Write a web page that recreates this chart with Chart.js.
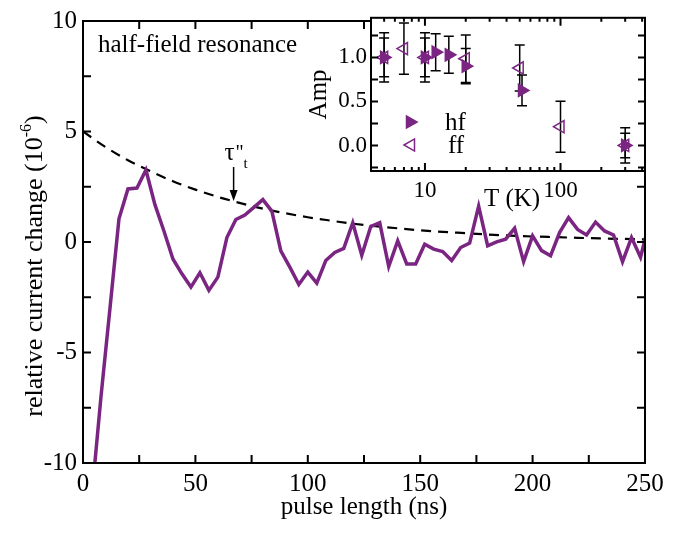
<!DOCTYPE html>
<html lang="en">
<head>
<meta charset="UTF-8">
<title>Half-field resonance</title>
<script src="https://cdn.jsdelivr.net/npm/chart.js"></script>
<style>
  body { margin: 0; background: #fff; }
  #wrap { position: relative; width: 679px; height: 534px; }
  #mainChart { position: absolute; left: 0; top: 0; }
  #insetChart { position: absolute; left: 290px; top: 0; }
</style>
</head>
<body>
<div id="wrap">
  <canvas id="mainChart" width="679" height="534"></canvas>
  <canvas id="insetChart" width="389" height="220"></canvas>
</div>
<script>
// main trace: pulse length (ns) vs relative current change (1e-6)
const pulseLength = [4, 8, 12, 16, 20, 24, 28, 32, 36, 40, 44, 48, 52, 56, 60, 64, 68, 72, 76, 80,
  84, 88, 92, 96, 100, 104, 108, 112, 116, 120, 124, 128, 132, 136, 140, 144, 148, 152, 156, 160,
  164, 168, 172, 176, 180, 184, 188, 192, 196, 200, 204, 208, 212, 216, 220, 224, 228, 232, 236, 240,
  244, 248, 252];
const currentChange = [-11.4, -7.0, -3.0, 1.05, 2.4, 2.44, 3.26, 1.69, 0.5, -0.77, -1.44, -2.04, -1.39, -2.19, -1.59, 0.2, 1.02, 1.22, 1.57, 1.92,
  1.4, -0.4, -1.14, -1.92, -1.36, -1.86, -0.84, -0.47, -0.29, 0.87, -0.6, 0.7, 0.87, -1.11, 0.05, -0.99, -0.99, -0.1, -0.32, -0.43,
  -0.84, -0.25, -0.05, 1.62, -0.17, 0.01, 0.13, 0.62, -0.89, 0.28, -0.39, -0.62, 0.43, 1.1, 0.57, 0.32, 0.9, 0.5, 0.32, -0.89,
  0.2, -0.69, 0.9];

// dashed envelope
const envLength = [0, 10, 20, 30, 40, 50, 60, 70, 80, 90, 100, 110, 120, 130, 140, 150, 160, 170, 180, 190, 200, 210, 220, 230, 240, 250];
const envChange = [5.0, 4.3, 3.7, 3.2, 2.75, 2.37, 2.04, 1.76, 1.51, 1.3, 1.12, 0.97, 0.83, 0.72, 0.62, 0.53, 0.46, 0.4, 0.34, 0.29, 0.25, 0.22, 0.19, 0.16, 0.14, 0.12];

const xTicks = [0, 50, 100, 150, 200, 250];
const yTicks = [-10, -5, 0, 5, 10];
const tauT = 67;

// inset: amplitude vs temperature
const tempHf = [5, 10, 12, 15, 20, 52, 300];
const ampHf = [1.0, 1.0, 1.06, 1.03, 0.9, 0.625, 0.0];
const errHf = [0.22, 0.22, 0.21, 0.21, 0.2, 0.175, 0.14];
const tempFf = [5, 7, 10, 20, 50, 100, 300];
const ampFf = [1.0, 1.1, 1.0, 0.985, 0.88, 0.213, 0.0];
const errFf = [0.28, 0.29, 0.28, 0.27, 0.26, 0.29, 0.2];
const insetXTicks = [10, 100];
const insetYTicks = [0, 0.5, 1.0];

const purple = '#7b2583';
const serif = '"Liberation Serif", "Times New Roman", serif';

function toPoints(xs, ys) {
  return xs.map((x, i) => ({ x: x, y: ys[i] }));
}

// frame + inward ticks for the main plot, and the annotations
const mainDecor = {
  id: 'mainDecor',
  afterDraw(chart) {
    const { ctx, chartArea: a, scales: { x, y } } = chart;
    ctx.save();
    ctx.strokeStyle = '#000';
    ctx.lineWidth = 2;
    ctx.strokeRect(a.left, a.top, a.right - a.left, a.bottom - a.top);
    ctx.beginPath();
    for (let v = 0; v <= 250; v += 25) {
      const px = x.getPixelForValue(v);
      ctx.moveTo(px, a.bottom); ctx.lineTo(px, a.bottom - 8);
      ctx.moveTo(px, a.top); ctx.lineTo(px, a.top + 8);
    }
    for (let v = -10; v <= 10; v += 2.5) {
      const py = y.getPixelForValue(v);
      ctx.moveTo(a.left, py); ctx.lineTo(a.left + 8, py);
      ctx.moveTo(a.right, py); ctx.lineTo(a.right - 8, py);
    }
    ctx.stroke();

    ctx.fillStyle = '#000';
    ctx.font = '25px ' + serif;
    ctx.textAlign = 'left';
    ctx.textBaseline = 'alphabetic';
    ctx.fillText('half-field resonance', 98, 52);

    // tau''_t arrow
    const ax = x.getPixelForValue(tauT);
    ctx.font = '25px ' + serif;
    ctx.fillText('τ', ax - 9, 160);
    ctx.font = '20px ' + serif;
    ctx.fillText('"', ax + 2, 159);
    ctx.font = '15px ' + serif;
    ctx.fillText('t', ax + 10, 168);
    const tip = y.getPixelForValue(1.85);
    ctx.lineWidth = 1.5;
    ctx.beginPath();
    ctx.moveTo(ax, 167); ctx.lineTo(ax, tip - 8);
    ctx.stroke();
    ctx.beginPath();
    ctx.moveTo(ax - 4, tip - 11); ctx.lineTo(ax + 4, tip - 11); ctx.lineTo(ax, tip);
    ctx.closePath();
    ctx.fill();

    // axis titles
    ctx.font = '25px ' + serif;
    ctx.textAlign = 'center';
    ctx.fillText('pulse length (ns)', (a.left + a.right) / 2, 514);

    ctx.translate(42, (a.top + a.bottom) / 2 + 24);
    ctx.rotate(-Math.PI / 2);
    const t1 = 'relative current change (10', t2 = '-6', t3 = ')';
    ctx.font = '26px ' + serif;
    const w1 = ctx.measureText(t1).width, w3 = ctx.measureText(t3).width;
    ctx.font = '16px ' + serif;
    const w2 = ctx.measureText(t2).width;
    let x0 = -(w1 + w2 + w3) / 2;
    ctx.textAlign = 'left';
    ctx.font = '26px ' + serif;
    ctx.fillText(t1, x0, 0);
    ctx.font = '16px ' + serif;
    ctx.fillText(t2, x0 + w1, -11);
    ctx.font = '26px ' + serif;
    ctx.fillText(t3, x0 + w1 + w2, 0);
    ctx.restore();
  }
};

new Chart(document.getElementById('mainChart'), {
  type: 'line',
  data: {
    datasets: [{
      data: toPoints(pulseLength, currentChange),
      borderColor: purple,
      borderWidth: 3.5,
      pointRadius: 0,
      tension: 0
    }, {
      data: toPoints(envLength, envChange),
      borderColor: '#000',
      borderWidth: 2.2,
      borderDash: [10, 7],
      pointRadius: 0,
      cubicInterpolationMode: 'monotone'
    }]
  },
  options: {
    responsive: false,
    animation: false,
    layout: { padding: { left: 0, right: 34, top: 16, bottom: 0 } },
    plugins: { legend: { display: false }, tooltip: { enabled: false } },
    scales: {
      x: {
        type: 'linear', min: 0, max: 250,
        grid: { display: false, drawTicks: false },
        border: { display: false },
        afterFit: s => { s.height = 71; },
        afterBuildTicks: s => { s.ticks = xTicks.map(v => ({ value: v })); },
        ticks: { color: '#000', padding: 6, maxRotation: 0, font: { family: serif, size: 25 } }
      },
      y: {
        min: -10, max: 10,
        grid: { display: false, drawTicks: false },
        border: { display: false },
        afterFit: s => { s.width = 83; },
        afterBuildTicks: s => { s.ticks = yTicks.map(v => ({ value: v })); },
        ticks: { color: '#000', padding: 6, font: { family: serif, size: 25 } }
      }
    }
  },
  plugins: [mainDecor]
});

// inset decorations: background, error bars, frame, ticks, legend
const insetDecor = {
  id: 'insetDecor',
  beforeDraw(chart) {
    const { ctx, chartArea: a } = chart;
    ctx.save();
    ctx.fillStyle = '#fff';
    ctx.fillRect(a.left, a.top, a.right - a.left, a.bottom - a.top);
    ctx.restore();
  },
  beforeDatasetsDraw(chart) {
    const { ctx, scales: { x, y } } = chart;
    ctx.save();
    ctx.strokeStyle = '#000';
    ctx.lineWidth = 1.5;
    const bars = (ts, as, es) => {
      ts.forEach((t, i) => {
        const px = x.getPixelForValue(t);
        const hi = y.getPixelForValue(as[i] + es[i]);
        const lo = y.getPixelForValue(as[i] - es[i]);
        ctx.beginPath();
        ctx.moveTo(px, hi); ctx.lineTo(px, lo);
        ctx.moveTo(px - 5, hi); ctx.lineTo(px + 5, hi);
        ctx.moveTo(px - 5, lo); ctx.lineTo(px + 5, lo);
        ctx.stroke();
      });
    };
    bars(tempFf, ampFf, errFf);
    bars(tempHf, ampHf, errHf);
    ctx.restore();
  },
  afterDraw(chart) {
    const { ctx, chartArea: a, scales: { x, y } } = chart;
    ctx.save();
    ctx.strokeStyle = '#000';
    ctx.lineWidth = 2;
    ctx.strokeRect(a.left, a.top, a.right - a.left, a.bottom - a.top);
    ctx.beginPath();
    const decades = [1, 10, 100];
    decades.forEach(d => {
      for (let m = 1; m <= 9; m++) {
        const v = d * m;
        if (v < x.min || v > x.max) continue;
        const len = m === 1 ? 8 : 4;
        const px = x.getPixelForValue(v);
        ctx.moveTo(px, a.bottom); ctx.lineTo(px, a.bottom - len);
        ctx.moveTo(px, a.top); ctx.lineTo(px, a.top + len);
      }
    });
    for (let v = -0.25; v <= 1.3; v += 0.25) {
      const py = y.getPixelForValue(v);
      ctx.moveTo(a.left, py); ctx.lineTo(a.left + 7, py);
      ctx.moveTo(a.right, py); ctx.lineTo(a.right - 7, py);
    }
    ctx.stroke();

    // legend
    ctx.lineWidth = 1.5;
    ctx.strokeStyle = purple;
    ctx.fillStyle = purple;
    Chart.helpers.drawPoint(ctx, { pointStyle: 'triangle', rotation: 90, radius: 7, borderWidth: 1.5 }, 120, 122);
    ctx.fillStyle = 'rgba(0,0,0,0)';
    Chart.helpers.drawPoint(ctx, { pointStyle: 'triangle', rotation: -90, radius: 7, borderWidth: 1.5 }, 121, 145);
    ctx.fillStyle = '#000';
    ctx.font = '25px ' + serif;
    ctx.textAlign = 'left';
    ctx.textBaseline = 'alphabetic';
    ctx.fillText('hf', 155, 130);
    ctx.fillText('ff', 158, 153);

    // axis titles
    ctx.textAlign = 'center';
    ctx.fillText('T (K)', (a.left + a.right) / 2 + 4, 206);
    ctx.translate(36, (a.top + a.bottom) / 2);
    ctx.rotate(-Math.PI / 2);
    ctx.fillText('Amp', 0, 0);
    ctx.restore();
  }
};

new Chart(document.getElementById('insetChart'), {
  type: 'scatter',
  data: {
    datasets: [{
      label: 'hf',
      data: toPoints(tempHf, ampHf),
      pointStyle: 'triangle',
      rotation: 90,
      pointRadius: 7,
      backgroundColor: purple,
      borderColor: purple,
      borderWidth: 1.5,
      order: 0
    }, {
      label: 'ff',
      data: toPoints(tempFf, ampFf),
      pointStyle: 'triangle',
      rotation: -90,
      pointRadius: 7,
      backgroundColor: 'rgba(0,0,0,0)',
      borderColor: purple,
      borderWidth: 1.5,
      order: 1
    }]
  },
  options: {
    responsive: false,
    animation: false,
    layout: { padding: { left: 0, right: 34, top: 16, bottom: 0 } },
    plugins: { legend: { display: false }, tooltip: { enabled: false } },
    scales: {
      x: {
        type: 'logarithmic', min: 4, max: 420,
        grid: { display: false, drawTicks: false },
        border: { display: false },
        afterFit: s => { s.height = 49; },
        afterBuildTicks: s => { s.ticks = insetXTicks.map(v => ({ value: v })); },
        ticks: { color: '#000', padding: 6, autoSkip: false, maxRotation: 0,
          callback: v => String(v), font: { family: serif, size: 23 } }
      },
      y: {
        min: -0.29, max: 1.45,
        grid: { display: false, drawTicks: false },
        border: { display: false },
        afterFit: s => { s.width = 81; },
        afterBuildTicks: s => { s.ticks = insetYTicks.map(v => ({ value: v })); },
        ticks: { color: '#000', padding: 4, callback: v => v.toFixed(1), font: { family: serif, size: 23 } }
      }
    }
  },
  plugins: [insetDecor]
});
</script>
</body>
</html>
